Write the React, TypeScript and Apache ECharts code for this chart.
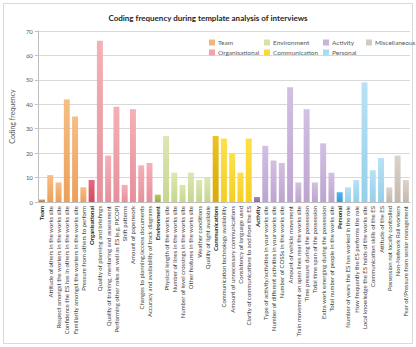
import React, { useEffect, useRef } from "react";
import * as echarts from "echarts";

// Category labels, grouped by theme (first entry of each group is the theme header)
const teamLabels = [
  "Team",
  "Attitude of others in the works site",
  "Respect amongst the workers in the works site",
  "Confidence the ES has in others in the works site",
  "Familiarity amongst the workers in the works site",
  "Pressure from others to perform",
];
const organisationalLabels = [
  "Organisational",
  "Quality of planning and briefings",
  "Quality of training, mentoring and assessment",
  "Performing other roles as well as ES (e.g. PICOP)",
  "Shift patterns",
  "Amount of paperwork",
  "Changes to planning/access documents",
  "Accuracy and availability of track diagrams",
];
const environmentLabels = [
  "Environment",
  "Physical length of the works site",
  "Number of lines in the works site",
  "Number of level crossings in the works site",
  "Other features in the works site",
  "Weather conditions",
  "Quality of light available",
];
const communicationLabels = [
  "Communications",
  "Communication technology availability",
  "Amount of unnecessary communications",
  "Consistency of language used",
  "Clarity of communications to and from the ES",
];
const activityLabels = [
  "Activity",
  "Type of activity/activities in your works site",
  "Number of different activities in your works site",
  "Number of COSSs in the works site",
  "Amount of vehicle movement",
  "Train movement on open lines near the works site",
  "Time pressure during the possession",
  "Total time span of the possession",
  "Extra work emerging during the possession",
  "Total number of people in the works site",
];
const personalLabels = [
  "Personal",
  "Number of years the ES has worked in the role",
  "How frequently the ES performs the role",
  "Local knowledge the ES holds of the works site",
  "Communication skills of the ES",
  "Attitude of the ES",
];
const miscLabels = [
  "Possession not locally controlled",
  "Non-Network Rail workers",
  "Fear of/Pressure from senior management",
];

// Coding frequency per category
const teamValues = [1, 11, 8, 42, 35, 6];
const organisationalValues = [9, 66, 19, 39, 7, 38, 15, 16];
const environmentValues = [3, 27, 12, 7, 12, 9, 10];
const communicationValues = [27, 26, 20, 12, 26];
const activityValues = [2, 23, 17, 16, 47, 8, 38, 8, 24, 12];
const personalValues = [4, 6, 9, 49, 13, 18];
const miscValues = [6, 19, 9];

const headerLabels = [
  "Team",
  "Organisational",
  "Environment",
  "Communications",
  "Activity",
  "Personal",
];

const yTicks = [0, 10, 20, 30, 40, 50, 60, 70];

type Group = {
  name: string;
  labels: string[];
  values: number[];
  legend: string;
  top: string;
  bottom: string;
  headTop: string;
  headBottom: string;
  hasHeader: boolean;
};

const groups: Group[] = [
  { name: "Team", labels: teamLabels, values: teamValues, legend: "#f5b47a", top: "#f7be86", bottom: "#eaa05a", headTop: "#dd9a52", headBottom: "#c98034", hasHeader: true },
  { name: "Organisational", labels: organisationalLabels, values: organisationalValues, legend: "#f1a2ab", top: "#f5b0b8", bottom: "#e4909c", headTop: "#e8687e", headBottom: "#d24a62", hasHeader: true },
  { name: "Environment", labels: environmentLabels, values: environmentValues, legend: "#d5e2a4", top: "#dce7b2", bottom: "#c6d690", headTop: "#b4c862", headBottom: "#9cb040", hasHeader: true },
  { name: "Communication", labels: communicationLabels, values: communicationValues, legend: "#fbd933", top: "#fde04a", bottom: "#f4cf22", headTop: "#ecc21c", headBottom: "#d8aa08", hasHeader: true },
  { name: "Activity", labels: activityLabels, values: activityValues, legend: "#c9b3da", top: "#d3c0e2", bottom: "#bca4d0", headTop: "#a588c0", headBottom: "#8c6cac", hasHeader: true },
  { name: "Personal", labels: personalLabels, values: personalValues, legend: "#a9dbf2", top: "#b8e2f5", bottom: "#96cfea", headTop: "#56b4e6", headBottom: "#3a9cd6", hasHeader: true },
  { name: "Miscellaneous", labels: miscLabels, values: miscValues, legend: "#d3c9bf", top: "#dcd3ca", bottom: "#c4b8ac", headTop: "#c4b8ac", headBottom: "#b0a498", hasHeader: false },
];

const categories: string[] = groups.flatMap((g) => g.labels);

const FONT = "Lato, 'Open Sans', sans-serif";

function grad(top: string, bottom: string) {
  return new echarts.graphic.LinearGradient(0, 0, 0, 1, [
    { offset: 0, color: top },
    { offset: 1, color: bottom },
  ]);
}

export default function App() {
  const ref = useRef<HTMLDivElement>(null);

  useEffect(() => {
    if (!ref.current) return;
    const chart = echarts.init(ref.current, undefined, { renderer: "svg" });

    let offset = 0;
    const series = groups.map((g) => {
      const data: any[] = categories.map(() => "-");
      g.values.forEach((v, i) => {
        const isHead = g.hasHeader && i === 0;
        data[offset + i] = {
          value: v,
          itemStyle: {
            color: isHead ? grad(g.headTop, g.headBottom) : grad(g.top, g.bottom),
          },
        };
      });
      offset += g.values.length;
      return {
        name: g.name,
        type: "bar",
        data,
        barWidth: "72%",
        barGap: "-100%",
        itemStyle: { color: g.legend },
      };
    });

    const legendBlock = (names: string[], left: number) => ({
      orient: "vertical",
      left,
      top: 34,
      itemWidth: 6,
      itemHeight: 6,
      itemGap: 3,
      icon: "rect",
      selectedMode: false,
      textStyle: { fontSize: 6.5, color: "#595959", fontFamily: FONT, padding: [0, 0, 0, -2] },
      data: names.map((n) => ({
        name: n,
        itemStyle: { color: groups.find((g) => g.name === n)!.legend },
      })),
    });

    chart.setOption({
      animation: false,
      backgroundColor: "#ffffff",
      title: {
        text: "Coding frequency during template analysis of interviews",
        left: "center",
        top: 9,
        textStyle: { fontSize: 8, fontWeight: "bold", color: "#262626", fontFamily: FONT },
      },
      legend: [
        legendBlock(["Team", "Organisational"], 204),
        legendBlock(["Environment", "Communication"], 259),
        legendBlock(["Activity", "Personal"], 318),
        legendBlock(["Miscellaneous"], 361),
      ],
      graphic: [
        {
          type: "rect",
          shape: { x: 3.5, y: 3.5, width: 409, height: 340 },
          style: { fill: "none", stroke: "#d9d9d9", lineWidth: 1 },
          silent: true,
          z: -1,
        },
      ],
      grid: { left: 30, right: 6, top: 31, bottom: 145 },
      xAxis: {
        type: "category",
        data: categories,
        axisLine: { show: true, lineStyle: { color: "#bfbfbf" } },
        axisTick: { show: false },
        axisLabel: {
          interval: 0,
          rotate: 90,
          fontSize: 6,
          color: "#404040",
          fontFamily: FONT,
          margin: 4,
          formatter: (v: string) => (headerLabels.includes(v) ? `{b|${v}}` : v),
          rich: {
            b: { fontSize: 6, fontWeight: "bold", color: "#262626", fontFamily: FONT },
          },
        },
      },
      yAxis: {
        type: "value",
        min: yTicks[0],
        max: yTicks[yTicks.length - 1],
        interval: 10,
        name: "Coding frequency",
        nameLocation: "middle",
        nameGap: 18,
        nameTextStyle: { fontSize: 7, color: "#595959", fontFamily: FONT },
        axisLine: { show: true, lineStyle: { color: "#bfbfbf" } },
        axisTick: { show: true, length: 3, lineStyle: { color: "#bfbfbf" } },
        axisLabel: { fontSize: 6, color: "#595959", fontFamily: FONT, margin: 5 },
        splitLine: { lineStyle: { color: "#d9d9d9", width: 1 } },
      },
      series,
    });

    return () => chart.dispose();
  }, []);

  return (
    <div
      ref={ref}
      style={{ position: "absolute", left: 0, top: 0, width: 416, height: 347 }}
    />
  );
}
